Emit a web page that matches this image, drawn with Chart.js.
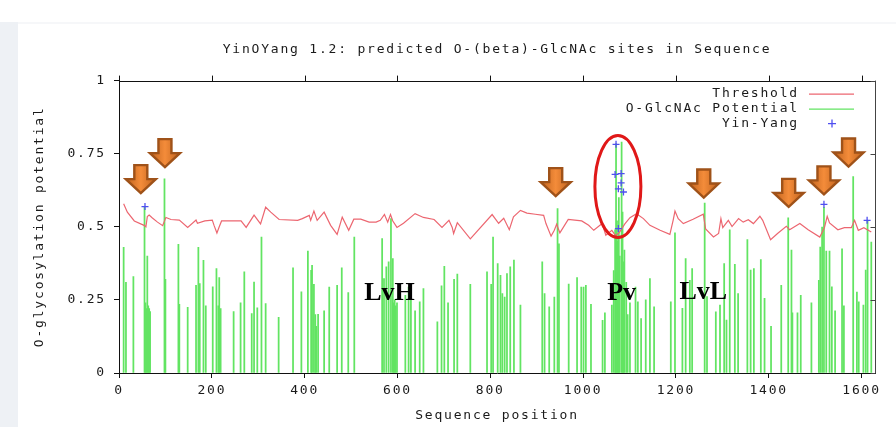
<!DOCTYPE html>
<html><head><meta charset="utf-8">
<script src="https://cdn.jsdelivr.net/npm/chart.js@4.4.1/dist/chart.umd.min.js"></script>
<style>html,body{margin:0;padding:0;background:#fff;}canvas{display:block;}</style>
</head><body>
<canvas id="c" width="896" height="427" style="width:896px;height:427px"></canvas>
<script>
const chartTitle = 'YinOYang 1.2: predicted O-(beta)-GlcNAc sites in Sequence';
const xTitle = 'Sequence position';
const yTitle = 'O-glycosylation potential';
const legendLabels = ['Threshold', 'O-GlcNAc Potential', 'Yin-Yang'];
const xTicks = [0, 200, 400, 600, 800, 1000, 1200, 1400, 1600];
const yTicks = [0, 0.25, 0.5, 0.75, 1];
const yTickLabels = ['0', '0.25', '0.5', '0.75', '1'];

const potentialPos = [10,15,31,55,57,59,61,63,65,67,98,100,128,130,148,166,171,174,182,187,202,210,214,216,219,247,262,270,
 286,291,298,307,316,344,375,393,407,414,416,420,423,425,429,442,453,470,480,494,507,
 567,571,576,581,586,590,592,594,596,599,617,624,629,638,648,656,686,695,701,709,722,729,757,793,802,806,816,822,
 826,831,836,843,851,865,912,917,927,938,945,948,969,987,996,1001,1006,1017,1042,1047,1062,
 1066,1069,1071,1073,1075,1077,1079,1083,1085,1087,1089,1093,1096,1101,
 1113,1118,1125,1135,1144,1153,1189,1198,1214,1221,1230,1235,1262,1267,1286,1295,1304,1309,1316,1327,1334,1354,1361,1368,
 1383,1391,1405,1427,1442,1449,1451,1462,1469,1492,1508,1511,1515,1519,1524,1531,1536,1543,1558,1562,1582,1590,1594,1604,1609,1613,1621];
const potentialVal = [0.43,0.31,0.33,0.57,0.24,0.22,0.40,0.23,0.22,0.21,0.664,0.32,0.44,0.235,0.225,0.30,0.43,0.306,0.385,0.23,0.295,0.357,0.23,0.326,0.22,0.21,0.24,0.346,
 0.203,0.311,0.223,0.465,0.237,0.19,0.36,0.278,0.417,0.351,0.368,0.303,0.20,0.16,0.201,0.213,0.294,0.30,0.36,0.275,0.465,
 0.46,0.323,0.363,0.38,0.528,0.391,0.24,0.25,0.23,0.24,0.266,0.294,0.266,0.213,0.243,0.289,0.175,0.298,0.365,0.24,0.32,0.338,0.303,0.346,0.303,0.465,0.374,0.334,
 0.272,0.26,0.34,0.363,0.386,0.232,0.38,0.272,0.226,0.26,0.562,0.442,0.304,0.326,0.294,0.294,0.30,0.235,0.18,0.206,0.232,
 0.35,0.49,0.785,0.52,0.45,0.60,0.40,0.79,0.55,0.38,0.42,0.31,0.20,0.24,
 0.294,0.243,0.186,0.25,0.323,0.226,0.243,0.479,0.221,0.391,0.317,0.357,0.581,0.261,0.209,0.232,0.374,0.181,0.49,0.372,0.272,0.456,0.352,0.357,
 0.388,0.255,0.16,0.30,0.531,0.42,0.206,0.206,0.266,0.24,0.317,0.431,0.499,0.567,0.417,0.417,0.295,0.213,0.425,0.23,0.672,0.277,0.243,0.232,0.352,0.522,0.448];

const thresholdPos = [10,18,33,54,58,61,65,72,83,94,101,112,130,148,166,169,185,201,205,211,216,221,263,274,291,305,316,327,345,385,395,410,413,420,427,442,456,470,481,495,506,521,539,554,563,572,579,585,590,599,613,638,656,679,696,711,718,721,729,757,804,818,829,841,850,865,879,897,915,920,931,938,943,950,968,987,997,1012,1023,1041,1049,1062,1070,1078,1090,1101,1115,1130,1144,1166,1187,1194,1198,1205,1216,1237,1259,1264,1281,1292,1297,1301,1313,1321,1335,1345,1356,1367,1381,1387,1404,1419,1438,1445,1467,1485,1510,1520,1526,1531,1549,1563,1578,1585,1593,1605,1621];
const thresholdVal = [0.579,0.55,0.52,0.505,0.50,0.535,0.54,0.53,0.516,0.504,0.532,0.525,0.523,0.498,0.523,0.512,0.52,0.523,0.504,0.479,0.50,0.52,0.52,0.498,0.54,0.51,0.567,0.55,0.525,0.522,0.528,0.539,0.522,0.554,0.522,0.55,0.505,0.474,0.533,0.488,0.526,0.526,0.516,0.516,0.522,0.542,0.516,0.542,0.52,0.498,0.512,0.545,0.532,0.525,0.498,0.522,0.498,0.477,0.514,0.459,0.542,0.512,0.529,0.49,0.534,0.556,0.547,0.543,0.539,0.511,0.468,0.488,0.509,0.479,0.525,0.522,0.52,0.505,0.488,0.511,0.471,0.488,0.47,0.48,0.51,0.531,0.545,0.528,0.505,0.488,0.474,0.522,0.554,0.528,0.511,0.526,0.543,0.493,0.465,0.477,0.528,0.497,0.522,0.501,0.528,0.516,0.524,0.511,0.536,0.522,0.456,0.477,0.502,0.49,0.511,0.49,0.465,0.497,0.536,0.513,0.49,0.497,0.497,0.522,0.488,0.497,0.482];

const yinYangPos = [56,1071,1069,1082,1082,1076,1087,1076,1519,1612];
const yinYangVal = [0.569,0.782,0.679,0.682,0.65,0.63,0.619,0.494,0.577,0.522];

// annotations (data coordinates)
const arrowPos = [47,99,941,1260,1443,1519,1572];
const arrowVal = [0.615,0.704,0.605,0.600,0.568,0.611,0.706];
const regionLabels = ['LvH','Pv','LvL'];
const regionPos = [583,1083,1259];
const regionVal = [0.248,0.248,0.254];
const ellipsePos = [1075];
const ellipseVal = [0.638];

const FONT = '"DejaVu Sans Mono", monospace';
const LS = '1.8px';
const TXT = '#1a1a1a';
const RED = '#ec6670';
const GREEN = '#62e462';
const BLUE = '#4f4ff0';

function drawArrow(ctx, tx, ty) {
  const H = 28, hw = 15, sw = 6.5, hh = 14;
  ctx.beginPath();
  ctx.moveTo(tx - sw, ty - H); ctx.lineTo(tx + sw, ty - H); ctx.lineTo(tx + sw, ty - hh);
  ctx.lineTo(tx + hw, ty - hh); ctx.lineTo(tx, ty); ctx.lineTo(tx - hw, ty - hh);
  ctx.lineTo(tx - sw, ty - hh); ctx.closePath();
  const g = ctx.createLinearGradient(tx - hw, 0, tx + hw, 0);
  g.addColorStop(0, '#bf621d'); g.addColorStop(0.5, '#f48c3a'); g.addColorStop(1, '#bf621d');
  ctx.fillStyle = g; ctx.fill();
  ctx.strokeStyle = '#9f5219'; ctx.lineWidth = 2.4; ctx.lineJoin = 'miter'; ctx.stroke();
}

const decor = {
  id: 'decor',
  beforeLayout(chart) { chart.ctx.letterSpacing = LS; },
  beforeDraw(chart) {
    const ctx = chart.ctx;
    ctx.save();
    ctx.fillStyle = '#ffffff'; ctx.fillRect(0, 0, 896, 427);
    ctx.fillStyle = '#eef1f5'; ctx.fillRect(0, 22, 18, 405);
    ctx.fillStyle = '#f6f7f9'; ctx.fillRect(18, 22, 878, 2);
    ctx.restore();
    ctx.letterSpacing = LS;
  },
  afterDraw(chart) {
    const {ctx, chartArea: a, scales: {x, y}} = chart;
    ctx.save();
    // top frame and ticks
    ctx.strokeStyle = '#111'; ctx.lineWidth = 1;
    ctx.beginPath();
    ctx.moveTo(a.left, Math.round(a.top) + 0.5); ctx.lineTo(a.right, Math.round(a.top) + 0.5);
    xTicks.forEach(v => { const px = Math.round(x.getPixelForValue(v)) + 0.5; ctx.moveTo(px, a.top - 5); ctx.lineTo(px, a.top + 1); });
    ctx.stroke();
    ctx.strokeStyle = '#444';
    ctx.beginPath();
    const rx = Math.round(a.right) + 0.5;
    ctx.moveTo(rx, a.top); ctx.lineTo(rx, a.bottom);
    yTicks.forEach(v => { const py = Math.round(y.getPixelForValue(v)) + 0.5; ctx.moveTo(rx - 5, py); ctx.lineTo(rx, py); });
    ctx.stroke();

    // legend
    ctx.font = '13px ' + FONT; ctx.fillStyle = TXT; ctx.textAlign = 'right'; ctx.textBaseline = 'middle';
    ctx.letterSpacing = LS;
    const colors = [RED, GREEN, BLUE];
    legendLabels.forEach((t, i) => {
      const ly = a.top + 13 + i * 15;
      ctx.fillStyle = TXT;
      ctx.fillText(t, a.right - 76, ly);
      ctx.strokeStyle = colors[i]; ctx.lineWidth = 1.3;
      ctx.beginPath();
      if (i < 2) { ctx.moveTo(a.right - 66, ly + 0.5); ctx.lineTo(a.right - 21, ly + 0.5); }
      else { const cx = a.right - 43; ctx.moveTo(cx - 4, ly); ctx.lineTo(cx + 4, ly); ctx.moveTo(cx, ly - 4); ctx.lineTo(cx, ly + 4); }
      ctx.stroke();
    });

    // ellipse
    ctx.strokeStyle = '#e01818'; ctx.lineWidth = 3;
    ellipsePos.forEach((p, i) => {
      ctx.beginPath();
      ctx.ellipse(x.getPixelForValue(p), y.getPixelForValue(ellipseVal[i]), 23, 51, 0, 0, Math.PI * 2);
      ctx.stroke();
    });

    // arrows
    arrowPos.forEach((p, i) => drawArrow(ctx, x.getPixelForValue(p), y.getPixelForValue(arrowVal[i])));

    // region labels
    ctx.letterSpacing = '0px';
    ctx.font = 'bold 26px "Liberation Serif", "Times New Roman", serif';
    ctx.fillStyle = '#000'; ctx.textAlign = 'center'; ctx.textBaseline = 'alphabetic';
    regionLabels.forEach((t, i) => ctx.fillText(t, x.getPixelForValue(regionPos[i]), y.getPixelForValue(regionVal[i])));
    ctx.restore();
    ctx.letterSpacing = LS;
  }
};

const gridOpts = {display: true, drawOnChartArea: false, drawTicks: true, tickLength: 5, color: '#111', lineWidth: 1};
const borderOpts = {display: true, color: '#111', width: 1};

new Chart(document.getElementById('c'), {
  type: 'bar',
  data: {
    datasets: [
      {type: 'line', label: legendLabels[2], data: yinYangPos.map((p, i) => ({x: p, y: yinYangVal[i]})),
       showLine: false, pointStyle: 'cross', pointRadius: 3.5, pointBorderWidth: 1.3, borderColor: BLUE, backgroundColor: BLUE, order: 1},
      {type: 'line', label: legendLabels[0], data: thresholdPos.map((p, i) => ({x: p, y: thresholdVal[i]})),
       borderColor: RED, borderWidth: 1.2, pointRadius: 0, tension: 0, fill: false, order: 2},
      {type: 'bar', label: legendLabels[1], data: potentialPos.map((p, i) => ({x: p, y: potentialVal[i]})),
       backgroundColor: GREEN, borderWidth: 0, barThickness: 1.1, order: 3}
    ]
  },
  options: {
    responsive: false, animation: false, events: [],
    layout: {padding: {left: 0, right: 21, top: 0, bottom: 0}},
    plugins: {
      legend: {display: false}, tooltip: {enabled: false},
      title: {display: true, fullSize: false, text: chartTitle, color: TXT,
              font: {family: FONT, size: 13, weight: 'normal', lineHeight: 1.2},
              padding: {top: 42, bottom: 23}}
    },
    scales: {
      x: {type: 'linear', min: 0, max: 1629, offset: false,
          afterBuildTicks(s) { s.ticks = xTicks.map(v => ({value: v})); },
          afterFit(s) { s.height = 54; },
          ticks: {autoSkip: false, maxRotation: 0, color: TXT, font: {family: FONT, size: 13}, padding: 5,
                  callback: (v, i) => String(xTicks[i])},
          grid: Object.assign({}, gridOpts, {offset: false}), border: borderOpts,
          title: {display: true, text: xTitle, color: TXT, font: {family: FONT, size: 13}, padding: {top: 0, bottom: 4}}},
      y: {type: 'linear', min: 0, max: 1,
          afterBuildTicks(s) { s.ticks = yTicks.map(v => ({value: v})); },
          afterFit(s) { s.width = 119; },
          ticks: {color: TXT, font: {family: FONT, size: 13}, padding: 8, callback: (v, i) => yTickLabels[i]},
          grid: gridOpts, border: borderOpts,
          title: {display: true, text: yTitle, color: TXT, font: {family: FONT, size: 13}, padding: {top: 32, bottom: 0}}}
    }
  },
  plugins: [decor]
});
</script>
</body></html>
